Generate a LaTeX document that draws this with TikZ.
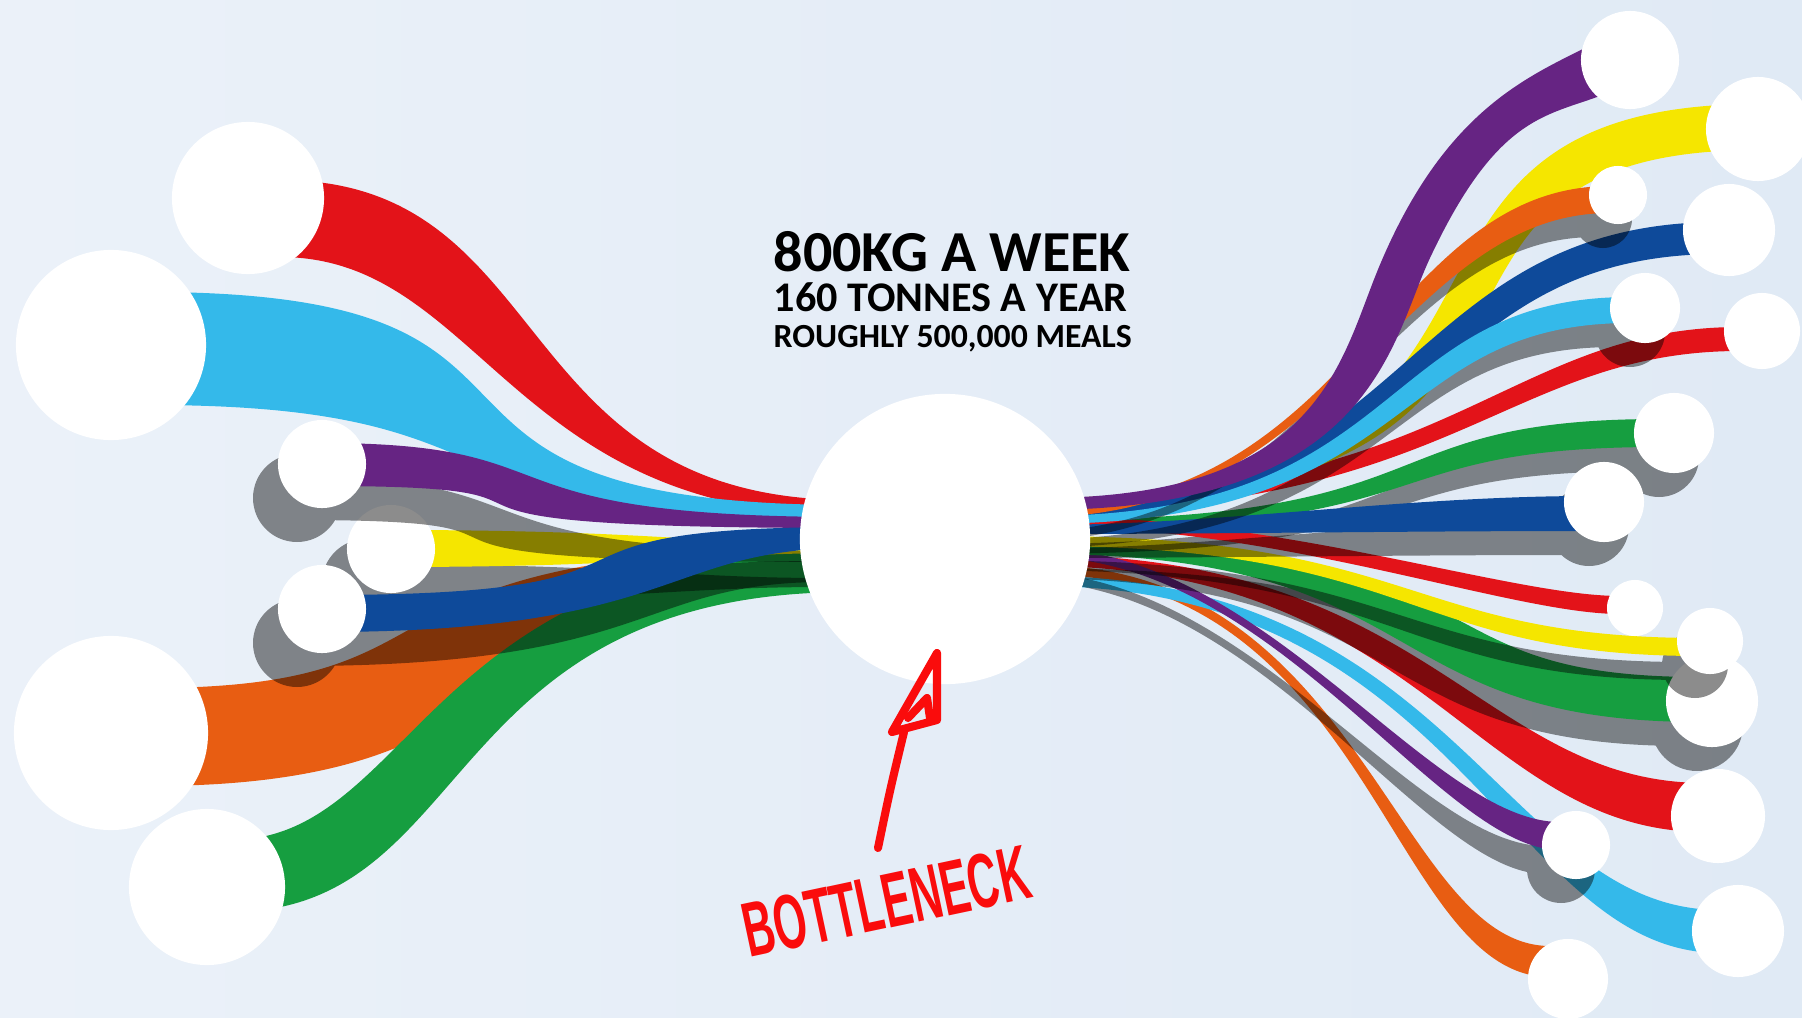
\documentclass[tikz,border=0pt]{standalone}
\usepackage{fontspec}
\newfontfamily\hd{Carlito}
\newfontfamily\hw{Liberation Sans}
\definecolor{cred}{RGB}{227,19,25}
\definecolor{clblue}{RGB}{52,185,234}
\definecolor{cpurple}{RGB}{102,36,131}
\definecolor{cyellow}{RGB}{245,230,0}
\definecolor{cblue}{RGB}{14,74,154}
\definecolor{corange}{RGB}{232,93,18}
\definecolor{cgreen}{RGB}{22,158,64}
\definecolor{cpen}{RGB}{250,12,12}
\definecolor{bgL}{RGB}{241,246,251}
\definecolor{bgM}{RGB}{229,237,247}
\definecolor{bgR}{RGB}{219,231,243}
\pgfdeclarehorizontalshading{bgsh}{100bp}{color(0bp)=(bgL); color(50bp)=(bgM); color(100bp)=(bgR)}
\tikzset{
  dot/.style={circle,fill=white,inner sep=0pt,minimum size=#1*0.02cm},
  sh/.style={transparency group,opacity=.45},
  hand/.style={draw=cpen,line width=2.3pt,line cap=round,line join=round}
}
% ribbon: {fill}{x outer}{x inner}{y0 top}{y1 top}{y0 bottom}{y1 bottom}{ctrl x top near outer}{ctrl x top near inner}{ctrl x bottom near outer}{ctrl x bottom near inner}
\newcommand\rib[9]{\def\ribfin##1##2{\fill[#1] (#2,#4) .. controls (#8,#4) and (#9,#5) .. (#3,#5) -- (#3,#7) .. controls (##2,#7) and (##1,#6) .. (#2,#6) -- cycle;}\ribfin}
\begin{document}
\begin{tikzpicture}[x=0.01cm,y=-0.01cm]
\useasboundingbox (0,0) rectangle (1802,1018);
\shade[shading=bgsh] (0,0) rectangle (1802,1018);

% ---------- left side ----------
\rib{cred}{280}{850}{180}{500}{257}{515}{559}{504}{480}{511}
\rib{clblue}{150}{850}{292}{505}{405}{525}{624}{341}{543}{404}
\rib{corange}{150}{850}{688}{548}{786}{575}{495}{319}{574}{452}
\rib{cgreen}{230}{850}{840}{550}{912}{592}{414}{425}{478}{436}

\begin{scope}[sh,shift={(-25,34)}]
  \rib{black}{391}{850}{530}{544}{567}{553}{650}{700}{650}{700}
  \fill[black] (391,549) circle[radius=44];
\end{scope}
\rib{cyellow}{391}{850}{530}{544}{567}{553}{650}{700}{650}{700}
\node[dot=44] (cD) at (391,549) {};

\begin{scope}[sh,shift={(-25,34)}]
  \rib{black}{322}{850}{443}{517}{486}{528}{586}{463}{640}{320}
  \fill[black] (322,464) circle[radius=44];
\end{scope}
\rib{cpurple}{322}{850}{443}{517}{486}{528}{586}{463}{640}{320}
\node[dot=44] (cC) at (322,464) {};

\begin{scope}[sh,shift={(-25,34)}]
  \rib{black}{322}{850}{595}{527}{632}{548}{717}{487}{680}{663}
  \fill[black] (322,609) circle[radius=44];
\end{scope}
\rib{cblue}{322}{850}{595}{527}{632}{548}{717}{487}{680}{663}
\node[dot=44] (cE) at (322,609) {};

\node[dot=76] (cA) at (248,198) {};
\node[dot=95] (cB) at (111,345) {};
\node[dot=97] (cF) at (111,733) {};
\node[dot=78] (cG) at (207,887) {};

% ---------- right side ----------
\rib{corange}{1550}{1040}{946}{565}{977}{574}{1397}{1361}{1390}{1370}
\rib{clblue}{1720}{1040}{910}{576}{953}{586}{1504}{1456}{1510}{1460}
\rib{cred}{1705}{1040}{783}{555}{832}{566}{1483}{1429}{1476}{1423}

\begin{scope}[sh,shift={(-15,24)}]
  \rib{black}{1560}{1040}{822}{548}{850}{557}{1430}{1263}{1440}{1275}
  \fill[black] (1576,845) circle[radius=34];
\end{scope}
\rib{cpurple}{1560}{1040}{822}{548}{850}{557}{1430}{1263}{1440}{1275}
\node[dot=34] (r13) at (1576,845) {};

\begin{scope}[sh,shift={(-15,24)}]
  \rib{black}{1700}{1040}{677}{544}{722}{554}{1396}{1531}{1371}{1436}
  \fill[black] (1712,701) circle[radius=46];
\end{scope}
\rib{cgreen}{1700}{1040}{677}{544}{722}{554}{1396}{1531}{1371}{1436}
\node[dot=46] (r11) at (1712,701) {};

\begin{scope}[sh,shift={(-15,24)}]
  \rib{black}{1700}{1040}{638}{536}{656}{546}{1407}{1418}{1407}{1418}
  \fill[black] (1710,641) circle[radius=33];
\end{scope}
\rib{cyellow}{1700}{1040}{638}{536}{656}{546}{1407}{1418}{1407}{1418}
\node[dot=33] (r10) at (1710,641) {};

\rib{cred}{1740}{1040}{327}{498}{351}{512}{1508}{1453}{1508}{1453}

\begin{scope}[sh,shift={(-15,24)}]
  \rib{black}{1660}{1040}{419}{520}{447}{530}{1362}{1458}{1362}{1458}
  \fill[black] (1674,433) circle[radius=40];
\end{scope}
\rib{cgreen}{1660}{1040}{419}{520}{447}{530}{1362}{1458}{1362}{1458}
\node[dot=40] (r7) at (1674,433) {};

\rib{cred}{1620}{1040}{596}{516}{614}{526}{1511}{1282}{1511}{1282}

\begin{scope}[sh,shift={(-15,24)}]
  \rib{black}{1590}{1040}{496}{525}{531}{534}{1400}{1220}{1400}{1220}
  \fill[black] (1604,502) circle[radius=40];
\end{scope}
\rib{cblue}{1590}{1040}{496}{525}{531}{534}{1400}{1220}{1400}{1220}
\node[dot=40] (r8) at (1604,502) {};

\rib{cyellow}{1758}{1040}{104}{498}{150}{506}{1314}{1601}{1340}{1655}
\rib{cblue}{1720}{1040}{222}{512}{254}{520}{1400}{1413}{1413}{1453}

\begin{scope}[sh,shift={(-15,24)}]
  \rib{black}{1630}{1040}{297}{516}{323}{524}{1375}{1410}{1385}{1420}
  \fill[black] (1645,308) circle[radius=35];
\end{scope}
\rib{clblue}{1630}{1040}{297}{516}{323}{524}{1375}{1410}{1385}{1420}
\node[dot=35] (r5) at (1645,308) {};

\begin{scope}[sh,shift={(-15,24)}]
  \rib{black}{1610}{1040}{186}{508}{213}{517}{1387}{1357}{1400}{1340}
  \fill[black] (1618,195) circle[radius=29];
\end{scope}
\rib{corange}{1610}{1040}{186}{508}{213}{517}{1387}{1357}{1400}{1340}
\node[dot=29] (r3) at (1618,195) {};

\fill[cpurple] (1600,40) .. controls (1540,73) and (1449,99) .. (1379,267)
  .. controls (1339,363) and (1321,498) .. (1040,498) -- (1040,510)
  .. controls (1373,510) and (1390,343) .. (1430,258)
  .. controls (1500,109) and (1550,117) .. (1610,92) -- cycle;

\node[dot=49] (r1) at (1630,60) {};
\node[dot=52] (r2) at (1758,129) {};
\node[dot=46] (r4) at (1729,230) {};
\node[dot=38] (r6) at (1762,331) {};
\node[dot=28] (r9) at (1635,608) {};
\node[dot=47] (r12) at (1718,816) {};
\node[dot=46] (r14) at (1738,931) {};
\node[dot=40] (r15) at (1568,979) {};

% ---------- hub ----------
\node[dot=145] (hub) at (945,539) {};

% ---------- headline ----------
\node[anchor=base west,inner sep=0pt] (head) at (773,347) {\hd\bfseries\vbox{\lineskiplimit=-100pt
  \baselineskip=11.38pt
  \hbox{\fontsize{16.5}{1}\selectfont 800KG A WEEK}
  \hbox{\fontsize{12}{1}\selectfont 160 TONNES A YEAR}
  \baselineskip=9.96pt
  \hbox{\fontsize{9.6}{1}\selectfont ROUGHLY 500,000 MEALS}}};

% ---------- bottleneck note ----------
\coordinate (tail) at (878,848);
\coordinate (neck) at (904,732);
\coordinate (tip) at (937,653);
\coordinate (hl) at (892,732);
\coordinate (hr) at (937,720);
\draw[hand] (tail) .. controls (890,790) .. (neck);
\draw[hand] (hl) -- (tip) -- (hr) -- cycle;
\draw[hand] (908,718) -- (927,698) -- (930,718);
\node[anchor=base west,rotate=12,inner sep=0pt,text=cpen] (bn) at (749,958) {\hw\bfseries\fontsize{22}{22}\selectfont\scalebox{0.55}[1]{BOTTLENECK}};
\end{tikzpicture}
\end{document}
